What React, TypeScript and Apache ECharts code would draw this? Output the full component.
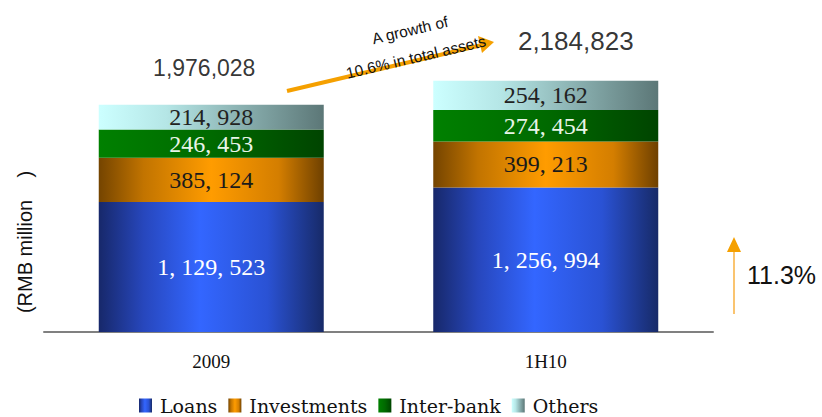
import React, { useEffect, useRef } from "react";
import * as echarts from "echarts";

const categories = ["2009", "1H10"];
const loans = [1129523, 1256994];
const investments = [385124, 399213];
const interbank = [246453, 274454];
const others = [214928, 254162];
const totals = [1976028, 2184823];
const growthLabel = "11.3%";

const fmtSpaced = (v: number) => v.toLocaleString("en-US").replace(/,/g, ", ");
const fmtTotal = (v: number) => v.toLocaleString("en-US");

const grad = (stops: [number, string][]) =>
  new echarts.graphic.LinearGradient(0, 0, 1, 0, stops.map(([offset, color]) => ({ offset, color })));

export default function App() {
  const ref = useRef<HTMLDivElement>(null);
  useEffect(() => {
    if (!ref.current) return;
    const chart = echarts.init(ref.current, null, { renderer: "svg" });
    const serif = "Liberation Serif";
    const sans = "Liberation Sans";
    const labelBase = { show: true, position: "inside", fontFamily: serif, fontSize: 24, formatter: (p: any) => fmtSpaced(p.value) };
    const barW = 225;
    chart.setOption({
      animation: false,
      grid: { left: 44, right: 109, top: 56, bottom: 85 },
      legend: {
        data: ["Loans", "Investments", "Inter-bank", "Others"],
        left: 134,
        top: 396,
        icon: "rect",
        itemWidth: 13,
        itemHeight: 14,
        itemGap: 11,
        padding: [0, 5, 0, 5],
        textStyle: { fontFamily: "DejaVu Serif", fontSize: 19, lineHeight: 18, color: "#111", padding: [0, 0, 0, 3] },
      },
      xAxis: {
        type: "category",
        data: categories,
        axisLine: { lineStyle: { color: "#808080", width: 2 } },
        axisTick: { show: false },
        axisLabel: { fontFamily: serif, fontSize: 19, color: "#111", margin: 20 },
      },
      yAxis: { type: "value", min: 0, max: 2400000, show: false, splitLine: { show: false } },
      series: [
        {
          name: "Loans", type: "bar", stack: "a", barWidth: barW, data: loans,
          itemStyle: { color: grad([[0, "#17286a"], [0.2, "#2747bd"], [0.45, "#3366ff"], [0.75, "#2a52d4"], [1, "#172a68"]]) },
          label: { ...labelBase, color: "#ffffff" },
        },
        {
          name: "Investments", type: "bar", stack: "a", data: investments,
          itemStyle: { color: grad([[0, "#744400"], [0.2, "#c27400"], [0.5, "#ff9c00"], [0.8, "#d47e00"], [1, "#6e4000"]]) },
          label: { ...labelBase, color: "#1a1a1a" },
        },
        {
          name: "Inter-bank", type: "bar", stack: "a", data: interbank,
          itemStyle: { color: grad([[0, "#008000"], [0.5, "#006a00"], [1, "#004400"]]) },
          label: { ...labelBase, color: "#e8f5e8" },
        },
        {
          name: "Others", type: "bar", stack: "a", data: others,
          itemStyle: { color: grad([[0, "#ccffff"], [0.3, "#b5e6e6"], [0.65, "#88aeae"], [1, "#5c7777"]]) },
          label: { ...labelBase, color: "#222" },
        },
        {
          name: "Total", type: "scatter", symbolSize: 0, data: [
            { value: totals[0], label: { offset: [-7, -20], fontSize: 23 } },
            { value: totals[1], label: { offset: [30, -22], fontSize: 26 } },
          ],
          label: { show: true, position: "top", fontFamily: sans, color: "#000", formatter: (p: any) => fmtTotal(p.value) },
          silent: true,
        },
      ],
      graphic: [
        {
          type: "text", x: 25, y: 242, rotation: Math.PI / 2,
          style: {
            text: "(RMB million    )",
            fontFamily: sans, fontSize: 20, fill: "#111", align: "center", verticalAlign: "middle",
          },
        },
        { type: "line", shape: { x1: 287, y1: 91, x2: 482, y2: 45 }, style: { stroke: "#f5a000", lineWidth: 4 } },
        { type: "polygon", shape: { points: [[494, 42], [478, 36], [482, 53]] }, style: { fill: "#f5a000" } },
        {
          type: "text", x: 410, y: 30, rotation: 0.23,
          style: { text: "A growth of", fontFamily: sans, fontSize: 15.5, fill: "#111", align: "center", verticalAlign: "middle" },
        },
        {
          type: "text", x: 416, y: 57, rotation: 0.23,
          style: { text: "10.6% in total assets", fontFamily: sans, fontSize: 15.5, fill: "#111", align: "center", verticalAlign: "middle" },
        },
        { type: "line", shape: { x1: 734, y1: 314, x2: 734, y2: 250 }, style: { stroke: "#f8b040", lineWidth: 1.5 } },
        { type: "polygon", shape: { points: [[734, 237], [727, 252], [741, 252]] }, style: { fill: "#f5a000" } },
        {
          type: "text", x: 747, y: 275,
          style: { text: growthLabel, fontFamily: sans, fontSize: 25, fill: "#111", align: "left", verticalAlign: "middle" },
        },
      ],
    });
    return () => chart.dispose();
  }, []);
  return <div ref={ref} style={{ width: 822, height: 417, position: "absolute", left: 0, top: 0 }} />;
}
